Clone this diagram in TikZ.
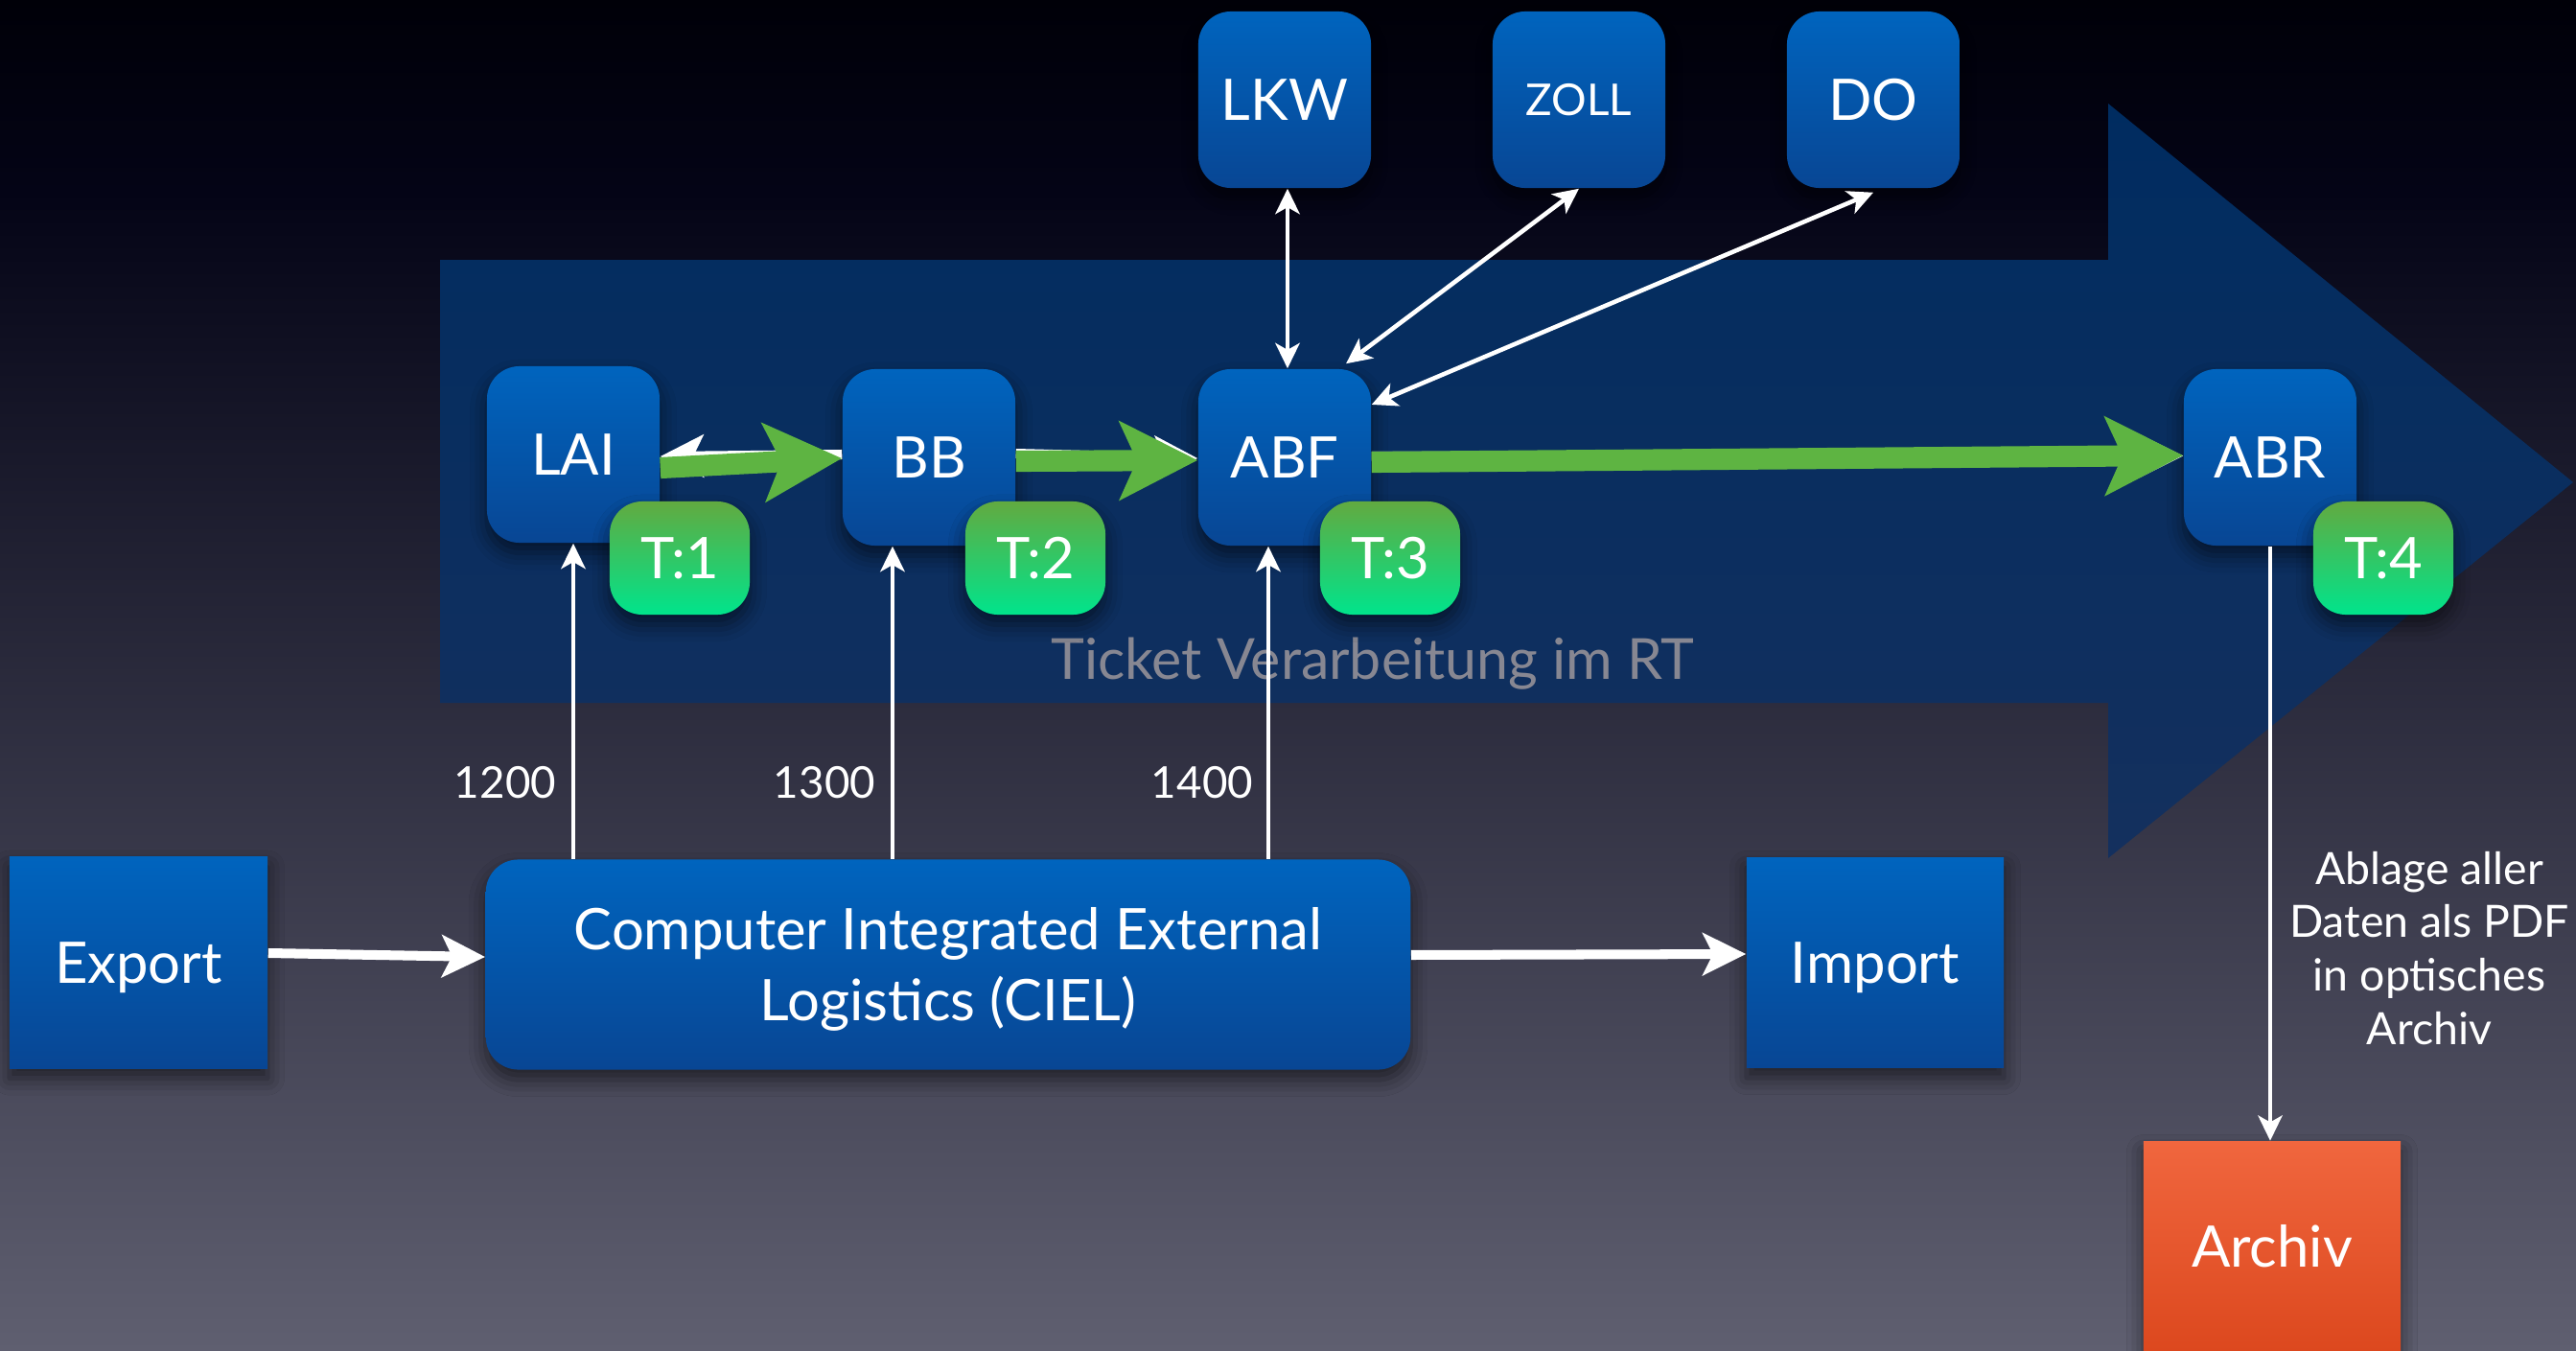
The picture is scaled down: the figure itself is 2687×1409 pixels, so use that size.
\documentclass[tikz,border=0pt]{standalone}
\usepackage{fontspec}
\setmainfont{Lato}
\usetikzlibrary{arrows.meta,calc,shadows.blur}

\definecolor{boxtop}{RGB}{0,100,190}
\definecolor{boxbot}{RGB}{8,70,148}
\definecolor{tagtop}{RGB}{98,170,64}
\definecolor{tagbot}{RGB}{0,228,140}
\definecolor{archtop}{RGB}{240,102,62}
\definecolor{archbot}{RGB}{220,72,30}
\definecolor{flowgreen}{RGB}{94,180,66}
\definecolor{bandtop}{RGB}{0,44,96}
\definecolor{bandbot}{RGB}{20,48,94}
\definecolor{captiongray}{RGB}{135,135,146}
\definecolor{bgtop}{RGB}{0,0,8}
\definecolor{bgmid}{RGB}{4,4,22}
\definecolor{bgbot}{RGB}{95,95,112}

\tikzset{
  softshadow/.style={blur shadow={shadow xshift=0pt, shadow yshift=-3pt,
      shadow blur radius=5pt, shadow opacity=55}},
  boxfont/.style={font=\fontsize{17pt}{20.8pt}\selectfont},
  % centre labels on their capitals (cap height of Lato is about 0.72 em)
  capcentred/.style={text height=12.2pt, text depth=0pt},
  roundbox/.style={rounded corners=0.34cm, top color=boxtop, bottom color=boxbot,
      text=white, inner sep=0pt, boxfont, softshadow},
  stagebox/.style={roundbox, minimum width=1.8cm, minimum height=1.84cm, capcentred},
  tagbox/.style={rounded corners=0.34cm, top color=tagtop, bottom color=tagbot,
      text=white, minimum width=1.46cm, minimum height=1.18cm, inner sep=0pt,
      capcentred, boxfont, softshadow},
  plainbox/.style={top color=boxtop, bottom color=boxbot, text=white,
      minimum width=2.69cm, minimum height=2.2cm, inner sep=0pt,
      capcentred, boxfont, softshadow},
  archbox/.style={top color=archtop, bottom color=archbot, text=white,
      minimum width=2.68cm, minimum height=2.19cm, inner sep=0pt,
      capcentred, boxfont, softshadow},
  numlabel/.style={text=white, inner sep=0pt, text height=9.4pt, text depth=0pt,
      font=\fontsize{13pt}{15pt}\selectfont},
  notetext/.style={text=white, inner sep=0pt, align=center,
      text height=57pt, text depth=0pt,
      font=\fontsize{13.2pt}{15.85pt}\selectfont},
  captiontext/.style={text=captiongray, inner sep=0pt,
      font=\fontsize{16.8pt}{20pt}\selectfont},
  thinarrow/.style={draw=white, line width=1.3pt, -{Stealth[length=7.5pt,width=7.2pt,inset=2pt]}},
  thinboth/.style={draw=white, line width=1.3pt,
      {Stealth[length=7.5pt,width=7.2pt,inset=2pt]}-{Stealth[length=7.5pt,width=7.2pt,inset=2pt]}},
  thickarrow/.style={draw=white, line width=2.85pt, -{Stealth[length=12.8pt,width=12.5pt,inset=3pt]}},
  flowarrow/.style={draw=flowgreen, line width=6.3pt, -{Stealth[length=23pt,width=23pt,inset=5pt]}}
}

\begin{document}
\begin{tikzpicture}[x=0.01cm,y=-0.01cm]
\useasboundingbox (0,0) rectangle (2687,1409);

% backdrop
\shade[top color=bgtop, bottom color=bgmid] (0,0) rectangle (2687,200);
\shade[top color=bgmid, bottom color=bgbot] (0,199) rectangle (2687,1409);

% large process arrow
\shade[top color=bandtop, bottom color=bandbot]
  (459,271) -- (2199,271) -- (2199,108) -- (2684,503) -- (2199,895)
  -- (2199,733) -- (459,733) -- cycle;
\node[captiontext, anchor=base] (caption) at (1432,708) {Ticket Verarbeitung im RT};

% ticket stages
\node[stagebox] (LAI) at (598,474) {LAI};
\node[stagebox] (BB)  at (969,477) {BB};
\node[stagebox] (ABF) at (1340,477) {ABF};
\node[stagebox] (ABR) at (2368,477) {ABR};

% external partners
\node[stagebox] (LKW) at (1340,104) {LKW};
\node[stagebox, font=\fontsize{13pt}{15pt}\selectfont, text height=9.4pt] (ZOLL) at (1647,104) {ZOLL};
\node[stagebox] (DO)  at (1954,104) {DO};

% ticket counters
\node[tagbox] (T1) at (709,582) {T:1};
\node[tagbox] (T2) at (1080,582) {T:2};
\node[tagbox] (T3) at (1450,582) {T:3};
\node[tagbox] (T4) at (2486,582) {T:4};

% lower row
\node[plainbox] (Export) at (144.5,1004) {Export};
\node[roundbox, minimum width=9.64cm, minimum height=2.19cm, align=center,
      text height=33pt, text depth=0pt]
      (CIEL) at (989,1006) {Computer Integrated External\\Logistics (CIEL)};
\node[plainbox, minimum width=2.68cm, minimum height=2.19cm] (Import) at (1956,1004) {Import};
\node[archbox] (Archiv) at (2370,1300) {Archiv};

\node[notetext] (note) at (2534,989) {Ablage aller\\Daten als PDF\\in optisches\\Archiv};

% message numbers
\node[numlabel] (n1200) at (527,816) {1200};
\node[numlabel] (n1300) at (860,816) {1300};
\node[numlabel] (n1400) at (1254,816) {1400};

% white links beneath the green flow
\draw[thickarrow] ([yshift=0.03cm]BB.west) -- ([yshift=-0.02cm]LAI.east);
\draw[thickarrow] ([yshift=0.04cm]BB.east) -- ([yshift=-0.01cm]ABF.west);
\draw[thickarrow] ([yshift=0.01cm]ABF.east) -- ([yshift=0.015cm]ABR.west);

% green ticket flow
\draw[flowarrow] ([yshift=-0.14cm]LAI.east) -- ([yshift=-0.01cm]BB.west);
\draw[flowarrow] ([yshift=-0.04cm]BB.east) -- ([yshift=-0.03cm]ABF.west);
\draw[flowarrow] ([yshift=-0.05cm]ABF.east) -- ([yshift=0.02cm]ABR.west);

% partner links
\draw[thinboth] ([xshift=0.03cm]LKW.south) -- ([xshift=0.03cm]ABF.north);
\draw[thinboth] (ZOLL.south) -- ([xshift=0.64cm,yshift=0.05cm]ABF.north);
\draw[thinboth] ([yshift=-0.04cm]DO.south) -- ([yshift=0.55cm]ABF.east);

% CIEL feeds
\coordinate (laiin) at (LAI.south);
\coordinate (bbin) at ([xshift=-0.38cm]BB.south);
\coordinate (abfin) at ([xshift=-0.17cm]ABF.south);
\draw[thinarrow] (laiin |- CIEL.north) -- (laiin);
\draw[thinarrow] (bbin |- CIEL.north) -- (bbin);
\draw[thinarrow] (abfin |- CIEL.north) -- (abfin);

% export / import
\draw[thickarrow] ([yshift=0.1cm]Export.east) -- ([yshift=0.08cm]CIEL.west);
\draw[thickarrow] ([yshift=0.1cm]CIEL.east) -- ([yshift=0.09cm]Import.west);

% archive
\draw[thinarrow, line width=1.1pt] (ABR.south) -- (ABR.south |- Archiv.north);
\end{tikzpicture}
\end{document}
